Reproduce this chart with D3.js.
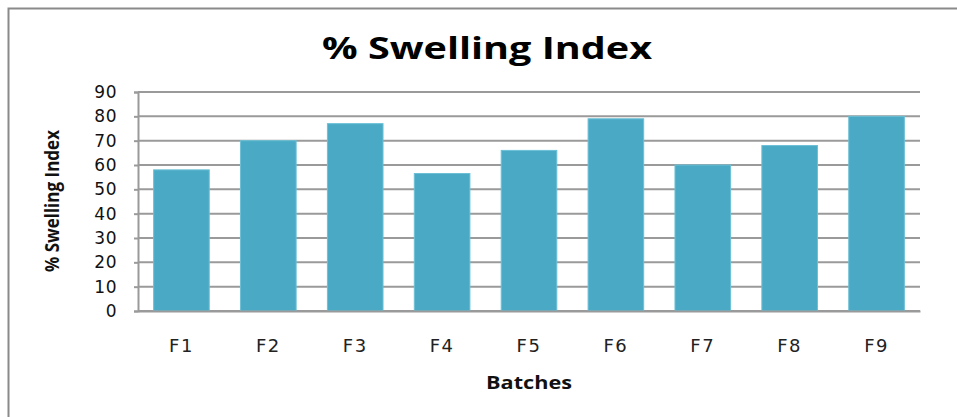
<!DOCTYPE html>
<html>
<head>
<meta charset="utf-8">
<script src="https://cdn.jsdelivr.net/npm/d3@7"></script>
<style>
  html, body { margin: 0; padding: 0; background: #fff; }
  svg { display: block; }
</style>
</head>
<body>
<svg id="chart" width="957" height="417"></svg>
<script>
// Swelling index per formulation batch
const batches = ["F1", "F2", "F3", "F4", "F5", "F6", "F7", "F8", "F9"];
const swellingIndex = [58, 70, 77, 56.5, 66, 79, 60, 68, 80];
const yTicks = [0, 10, 20, 30, 40, 50, 60, 70, 80, 90];

const svg = d3.select("#chart");
const W = 957, H = 417;
const plot = { left: 138, right: 920, top: 92, bottom: 311 };

// Outer chart frame
svg.append("rect")
  .attr("x", 8.5).attr("y", 8.5)
  .attr("width", W + 20).attr("height", H + 20)
  .attr("fill", "#fff")
  .attr("stroke", "#8a8a8a")
  .attr("stroke-width", 2);

const x = d3.scaleBand()
  .domain(batches)
  .range([plot.left, plot.right])
  .paddingInner(0.36)
  .paddingOuter(0.18);

const y = d3.scaleLinear()
  .domain([0, 90])
  .range([plot.bottom, plot.top]);

// Horizontal gridlines
svg.append("g")
  .selectAll("line")
  .data(yTicks)
  .join("line")
  .attr("x1", plot.left).attr("x2", plot.right)
  .attr("y1", d => y(d)).attr("y2", d => y(d))
  .attr("stroke", "#9a9a9a")
  .attr("stroke-width", 2);

// Bars
svg.append("g")
  .selectAll("rect")
  .data(batches.map((b, i) => ({ b, v: swellingIndex[i] })))
  .join("rect")
  .attr("x", d => x(d.b))
  .attr("y", d => y(d.v))
  .attr("width", x.bandwidth())
  .attr("height", d => y(0) - y(d.v))
  .attr("fill", "#4aaac5")
  .attr("stroke", "#6cc0d6")
  .attr("stroke-width", 1);

// Y axis
const yAxis = svg.append("g")
  .attr("transform", `translate(${plot.left},0)`)
  .call(d3.axisLeft(y).tickValues(yTicks).tickSize(4).tickPadding(17));
yAxis.select(".domain").attr("stroke", "#9a9a9a").attr("stroke-width", 2);
yAxis.selectAll(".tick line").attr("stroke", "#9a9a9a").attr("stroke-width", 2);
yAxis.selectAll("text")
  .attr("font-family", "DejaVu Sans, Verdana, sans-serif")
  .attr("font-size", 17)
  .attr("letter-spacing", 0.5)
  .attr("fill", "#111");

// X axis
const xAxis = svg.append("g")
  .attr("transform", `translate(0,${plot.bottom})`)
  .call(d3.axisBottom(x).tickSize(0).tickPadding(28));
xAxis.select(".domain").attr("stroke", "#9a9a9a").attr("stroke-width", 2);
xAxis.selectAll("text")
  .attr("font-family", "DejaVu Sans, Verdana, sans-serif")
  .attr("font-size", 18)
  .attr("letter-spacing", 1.5)
  .attr("fill", "#222");

// Titles
svg.append("text")
  .attr("x", 487).attr("y", 59)
  .attr("text-anchor", "middle")
  .attr("font-family", "Open Sans, sans-serif")
  .attr("font-weight", "bold")
  .attr("font-size", 30)
  .attr("textLength", 330)
  .attr("lengthAdjust", "spacingAndGlyphs")
  .attr("fill", "#000")
  .text("% Swelling Index");

svg.append("text")
  .attr("x", 529).attr("y", 389)
  .attr("text-anchor", "middle")
  .attr("font-family", "Open Sans, sans-serif")
  .attr("font-weight", "bold")
  .attr("font-size", 18)
  .attr("textLength", 86)
  .attr("lengthAdjust", "spacingAndGlyphs")
  .attr("fill", "#111")
  .text("Batches");

svg.append("text")
  .attr("transform", "translate(59,201) rotate(-90)")
  .attr("text-anchor", "middle")
  .attr("font-family", "Open Sans, sans-serif")
  .attr("font-weight", "bold")
  .attr("font-size", 19)
  .attr("textLength", 142)
  .attr("lengthAdjust", "spacingAndGlyphs")
  .attr("fill", "#111")
  .text("% Swelling Index");
</script>
</body>
</html>
